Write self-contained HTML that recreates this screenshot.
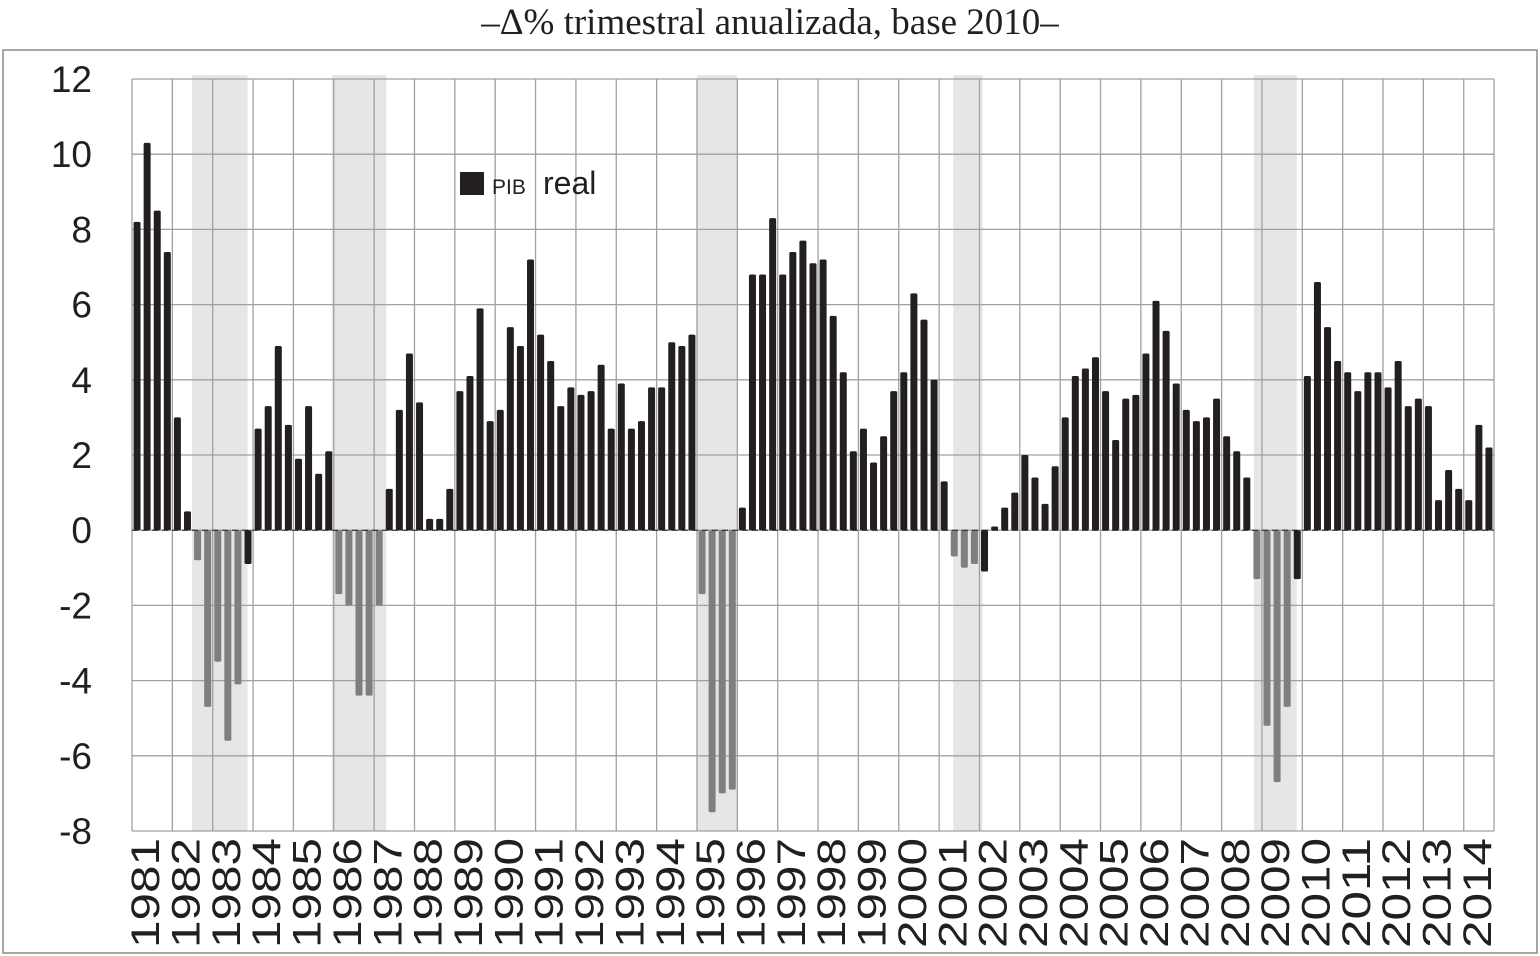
<!DOCTYPE html>
<html><head><meta charset="utf-8">
<style>
html,body{margin:0;padding:0;background:#fff;}
svg{display:block;}
</style></head>
<body>
<svg id="chart" width="1540" height="956" xmlns="http://www.w3.org/2000/svg">
  <rect x="3" y="50" width="1534" height="903" fill="none" stroke="#8a8a8a" stroke-width="1.5"/>
  <text x="770" y="34" text-anchor="middle" font-family="Liberation Serif, serif" font-size="37" fill="#231f20">–Δ% trimestral anualizada, base 2010–</text>
  <g id="shades"></g>
  <g id="grid"></g>
  <g id="bars"></g>
  <g id="yticks"></g>
  <g id="xticks"></g>
  <rect x="460" y="172" width="24" height="23" fill="#231f20"/>
  <text x="492" y="194" font-family="Liberation Sans, sans-serif" font-size="21" fill="#231f20">PIB<tspan x="543" font-size="32">real</tspan></text>
</svg>
<script>
const years = ["1981","1982","1983","1984","1985","1986","1987","1988","1989","1990","1991","1992","1993","1994","1995","1996","1997","1998","1999","2000","2001","2002","2003","2004","2005","2006","2007","2008","2009","2010","2011","2012","2013","2014"];
const gdpGrowth = [
 8.2,10.3,8.5,7.4, 3.0,0.5,-0.8,-4.7, -3.5,-5.6,-4.1,-0.9, 2.7,3.3,4.9,2.8,
 1.9,3.3,1.5,2.1, -1.7,-2.0,-4.4,-4.4, -2.0,1.1,3.2,4.7, 3.4,0.3,0.3,1.1,
 3.7,4.1,5.9,2.9, 3.2,5.4,4.9,7.2, 5.2,4.5,3.3,3.8, 3.6,3.7,4.4,2.7,
 3.9,2.7,2.9,3.8, 3.8,5.0,4.9,5.2, -1.7,-7.5,-7.0,-6.9, 0.6,6.8,6.8,8.3,
 6.8,7.4,7.7,7.1, 7.2,5.7,4.2,2.1, 2.7,1.8,2.5,3.7, 4.2,6.3,5.6,4.0,
 1.3,-0.7,-1.0,-0.9, -1.1,0.1,0.6,1.0, 2.0,1.4,0.7,1.7, 3.0,4.1,4.3,4.6,
 3.7,2.4,3.5,3.6, 4.7,6.1,5.3,3.9, 3.2,2.9,3.0,3.5, 2.5,2.1,1.4,-1.3,
 -5.2,-6.7,-4.7,-1.3, 4.1,6.6,5.4,4.5, 4.2,3.7,4.2,4.2, 3.8,4.5,3.3,3.5,
 3.3,0.8,1.6,1.1, 0.8,2.8,2.2
];
const recessionShades = [[5.95,11.45],[19.8,25.2],[56,59.96],[81.4,84.3],[111.2,115.45]];
const yTicks = [12,10,8,6,4,2,0,-2,-4,-6,-8];

const NS="http://www.w3.org/2000/svg";
const L=132, R=1494, T=79, B=831, yMax=12, yMin=-8;
const nQ = gdpGrowth.length;
const qw = (R-L)/nQ;
const xq = i => L + i*qw;
const y = v => T + (yMax - v)/(yMax-yMin)*(B-T);
function mk(tag, attrs, parent){const e=document.createElementNS(NS,tag);for(const k in attrs)e.setAttribute(k,attrs[k]);parent.appendChild(e);return e;}

const gShade=document.getElementById('shades');
recessionShades.forEach(s=>{
  const r=mk('rect',{x:xq(s[0]),y:T-4,width:xq(s[1])-xq(s[0]),height:B-T+4,fill:'#e6e6e8'},gShade);
  
  
});

const gGrid=document.getElementById('grid');
yTicks.forEach(v=>{
  const l=mk('line',{x1:L,x2:R,y1:y(v),y2:y(v),stroke:'#a0a0a0','stroke-width':1.3},gGrid);
  
  
});
for(let k=0;k<years.length;k++){
  const xx=xq(k*4);
  const l=mk('line',{x1:xx,x2:xx,y1:T,y2:B,stroke:'#a0a0a0','stroke-width':1.3},gGrid);
  
  
}
const rl=mk('line',{x1:R,x2:R,y1:T,y2:B,stroke:'#a0a0a0','stroke-width':1.3},gGrid);



const gBars=document.getElementById('bars');
const bw=7;
gdpGrowth.forEach((v,i)=>{
  const c=i+0.5;
  let inShade=false;
  recessionShades.forEach(s=>{ if(c>s[0] && c<s[1]) inShade=true; });
  const col=(v<0 && inShade)?'#7f7f7f':'#231f20';
  const y0=y(0), y1=y(v);
  const r=mk('rect',{x:xq(i)+(qw-bw)/2,y:Math.min(y0,y1),width:bw,height:Math.max(1,Math.abs(y1-y0)),fill:col,rx:1.5},gBars);
  
  
});
const zl=mk('line',{x1:L,x2:R,y1:y(0),y2:y(0),stroke:'#231f20','stroke-width':1,'stroke-dasharray':'6 4'},gBars);



const gY=document.getElementById('yticks');
yTicks.forEach(v=>{
  const t=mk('text',{x:92,y:y(v)+13,'text-anchor':'end','font-family':'Liberation Sans, sans-serif','font-size':37,fill:'#231f20'},gY);
  t.textContent=String(v);
  
  
});

const gX=document.getElementById('xticks');
years.forEach((yr,k)=>{
  const cx=xq(k*4)+2*qw+7;
  const t=mk('text',{x:0,y:0,transform:`translate(${cx},948) rotate(-90)`,'font-family':'Liberation Sans, sans-serif','font-size':40,fill:'#231f20','textLength':110,'lengthAdjust':'spacingAndGlyphs'},gX);
  t.textContent=yr;
  
  
});
</script>
</body></html>
